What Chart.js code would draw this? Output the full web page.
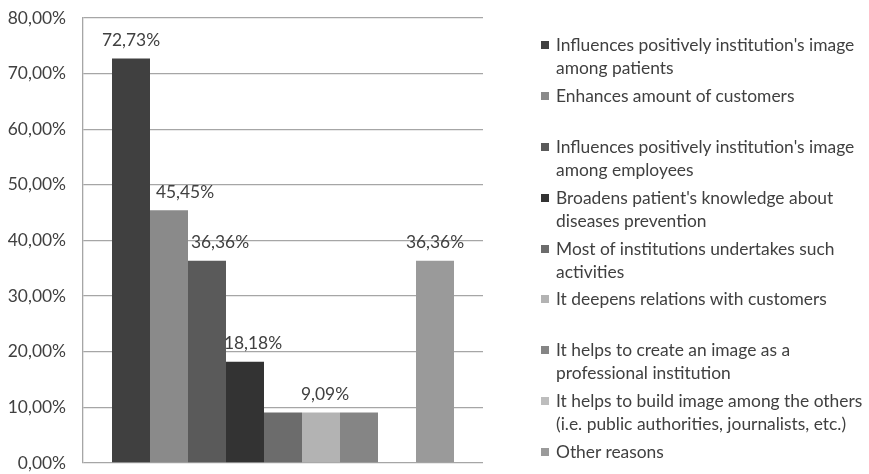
<!DOCTYPE html>
<html>
<head>
<meta charset="utf-8">
<script src="https://cdn.jsdelivr.net/npm/chart.js@4"></script>
<style>
  html, body { margin: 0; padding: 0; background: #fff; }
  #wrap { position: relative; width: 869px; height: 474px; }
  #grafico { display: block; }
  #legend { position: absolute; left: 541px; top: 33px; font-family: Lato, sans-serif; font-size: 17.4px; color: #404040; }
  .item { height: 50.9px; display: flex; align-items: flex-start; }
  .box { width: 8px; height: 8px; margin-top: 8px; margin-right: 7px; flex: none; }
  .txt { line-height: 23px; white-space: nowrap; }
</style>
</head>
<body>
<div id="wrap">
  <canvas id="grafico" width="869" height="474"></canvas>
  <div id="legend"></div>
</div>
<script>
const categorias = [""];
const razones = [
  ["Influences positively institution's image", "among patients"],
  ["Enhances amount of customers"],
  ["Influences positively institution's image", "among employees"],
  ["Broadens patient's knowledge about", "diseases prevention"],
  ["Most of institutions undertakes such", "activities"],
  ["It deepens relations with customers"],
  ["It helps to create an image as a", "professional institution"],
  ["It helps to build image among the others", "(i.e. public authorities, journalists, etc.)"],
  ["Other reasons"]
];
const valores = [72.73, 45.45, 36.36, 18.18, 9.09, 9.09, 9.09, 0, 36.36];
const colores = ["#404040", "#8a8a8a", "#5a5a5a", "#333333", "#6c6c6c", "#b3b3b3", "#858585", "#bdbdbd", "#9a9a9a"];
const ticksY = [0, 10, 20, 30, 40, 50, 60, 70, 80];

const fmt = v => v.toFixed(2).replace(".", ",") + "%";

// labels shown by the original, with a small horizontal shift
const etiquetas = { 0: 0, 1: 16, 2: 13, 3: 8, 5: 4, 8: 0 };

const etiquetasPlugin = {
  id: "etiquetas",
  afterDatasetsDraw(chart) {
    const ctx = chart.ctx;
    ctx.save();
    ctx.font = "17.4px Lato, sans-serif";
    ctx.fillStyle = "#404040";
    ctx.textAlign = "center";
    ctx.textBaseline = "middle";
    Object.keys(etiquetas).forEach(i => {
      const bar = chart.getDatasetMeta(i).data[0];
      ctx.fillText(fmt(valores[i]), bar.x + etiquetas[i], bar.y - 18);
    });
    ctx.restore();
  }
};

const datasets = razones.map((r, i) => ({
  label: r.join(" "),
  data: [valores[i]],
  backgroundColor: colores[i],
  borderWidth: 0,
  categoryPercentage: 0.855,
  barPercentage: 1
}));

new Chart(document.getElementById("grafico").getContext("2d"), {
  type: "bar",
  data: { labels: categorias, datasets: datasets },
  options: {
    responsive: false,
    animation: false,
    layout: { padding: { left: 0, top: 18, right: 386, bottom: 11 } },
    plugins: { legend: { display: false }, tooltip: { enabled: false } },
    scales: {
      x: { display: false },
      y: {
        min: 0,
        max: 80,
        afterBuildTicks: s => { s.ticks = ticksY.map(v => ({ value: v })); },
        afterFit: s => { s.width = 83; s.paddingTop = 0; s.paddingBottom = 0; },
        ticks: {
          padding: 17,
          color: "#404040",
          font: { family: "Lato, sans-serif", size: 17.4 },
          callback: v => fmt(v)
        },
        grid: { color: "#a6a6a6", lineWidth: 1.3, drawTicks: false },
        border: { color: "#a6a6a6", width: 1.3 }
      }
    }
  },
  plugins: [etiquetasPlugin]
});

const legend = document.getElementById("legend");
razones.forEach((r, i) => {
  const item = document.createElement("div");
  item.className = "item";
  const box = document.createElement("div");
  box.className = "box";
  box.style.background = colores[i];
  const txt = document.createElement("div");
  txt.className = "txt";
  txt.innerHTML = r.map(l => l.replace(/&/g, "&amp;").replace(/</g, "&lt;")).join("<br>");
  item.appendChild(box);
  item.appendChild(txt);
  legend.appendChild(item);
});
</script>
</body>
</html>
